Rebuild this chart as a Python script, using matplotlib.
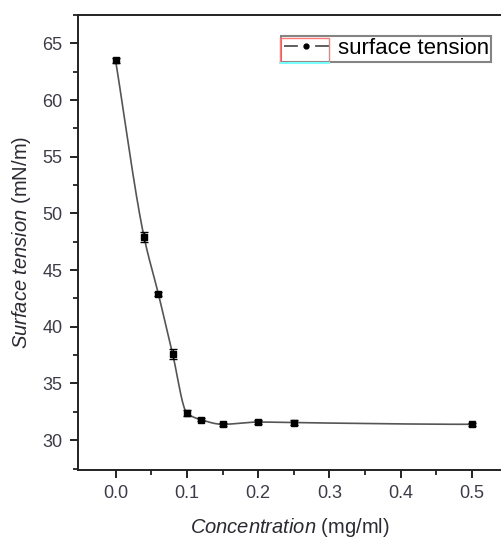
import numpy as np
import matplotlib
matplotlib.use("Agg")
import matplotlib.pyplot as plt
from matplotlib.lines import Line2D
from matplotlib.patches import Rectangle

conc = [0.0, 0.04, 0.06, 0.08, 0.10, 0.12, 0.15, 0.20, 0.25, 0.50]
tension = [63.5, 47.9, 42.9, 37.6, 32.4, 31.8, 31.4, 31.6, 31.55, 31.4]
err = [0.25, 0.45, 0.2, 0.4, 0.25, 0.15, 0.15, 0.15, 0.2, 0.15]
xticks = [0.0, 0.1, 0.2, 0.3, 0.4, 0.5]
yticks = [30, 35, 40, 45, 50, 55, 60, 65]


def pchip(x, y, xs):
    x = np.asarray(x, float); y = np.asarray(y, float)
    h = np.diff(x); d = np.diff(y) / h
    m = np.zeros_like(y)
    for k in range(1, len(x) - 1):
        if d[k - 1] * d[k] > 0:
            w1 = 2 * h[k] + h[k - 1]; w2 = h[k] + 2 * h[k - 1]
            m[k] = (w1 + w2) / (w1 / d[k - 1] + w2 / d[k])
    m[0] = d[0]; m[-1] = 0.0
    idx = np.clip(np.searchsorted(x, xs) - 1, 0, len(x) - 2)
    t = (xs - x[idx]) / h[idx]
    h00 = 2 * t**3 - 3 * t**2 + 1; h10 = t**3 - 2 * t**2 + t
    h01 = -2 * t**3 + 3 * t**2; h11 = t**3 - t**2
    return h00 * y[idx] + h10 * h[idx] * m[idx] + h01 * y[idx + 1] + h11 * h[idx] * m[idx + 1]


plt.rcParams['font.family'] = ['Liberation Sans', 'DejaVu Sans']
plt.rcParams['mathtext.fontset'] = 'custom'
plt.rcParams['mathtext.it'] = 'Liberation Sans:italic'
plt.rcParams['mathtext.rm'] = 'Liberation Sans'
plt.rcParams['lines.scale_dashes'] = False

fig = plt.figure(figsize=(5.02, 5.38), dpi=100)
ax = fig.add_axes([0.155, 0.126, 0.845, 0.846])

xs = np.linspace(conc[0], conc[-1], 800)
ax.plot(xs, pchip(conc, tension, xs), color='#555555', lw=1.2, zorder=2)
ax.errorbar(conc, tension, yerr=err, fmt='s', ms=4.5, color='black',
            ecolor='black', elinewidth=1, capsize=3, capthick=1, zorder=3)

ax.set_xlim(-0.053, 0.542)
ax.set_ylim(27.35, 67.47)
ax.set_xticks(xticks)
ax.set_xticklabels([f"{v:.1f}" for v in xticks])
ax.set_yticks(yticks)
ax.set_xticks([0.05, 0.15, 0.25, 0.35, 0.45], minor=True)
ax.set_yticks([27.5, 32.5, 37.5, 42.5, 47.5, 52.5, 57.5, 62.5, 67.5], minor=True)
ax.tick_params(which='major', direction='out', length=6, width=1.4,
               labelsize=13, labelcolor='#3c3c48', color='#222222', pad=5)
ax.tick_params(which='minor', direction='out', length=3.5, width=1.3, color='#222222')
ax.spines['right'].set_visible(False)
for s in ['left', 'bottom', 'top']:
    ax.spines[s].set_linewidth(1.4)
    ax.spines[s].set_color('#222222')

ax.set_xlabel(r'$\it{Concentration}$ (mg/ml)', fontsize=14.5, color='#2a2a32', labelpad=10)
ax.set_ylabel(r'$\it{Surface\ tension}$ (mN/m)', fontsize=14.5, color='#2a2a32', labelpad=7)

handle = Line2D([], [], color='#444444', lw=1.2, marker='o', ms=3.5,
                markerfacecolor='black', markeredgecolor='black', markevery=[1],
                linestyle=(0, (10, 12.4)))
leg = ax.legend([handle], ['surface tension'], loc='upper right',
                bbox_to_anchor=(0.975, 0.955), fontsize=16, frameon=True,
                fancybox=False, edgecolor='#666666', handlelength=2.03,
                handletextpad=0.4, borderpad=0.12, borderaxespad=0)
leg.get_frame().set_linewidth(1.5)

# screenshot highlight artefacts around the legend handle
fig.add_artist(Rectangle((280 / 502, 1 - 62 / 538), 49 / 502, 24 / 538,
                         transform=fig.transFigure, fill=False,
                         edgecolor='#ff7777', lw=1.0, zorder=10))
fig.add_artist(Line2D([280 / 502, 329 / 502], [1 - 62.5 / 538, 1 - 62.5 / 538],
                      transform=fig.transFigure, color='#77ffff', lw=1.5, zorder=11))

fig.savefig('out.png', dpi=100)
